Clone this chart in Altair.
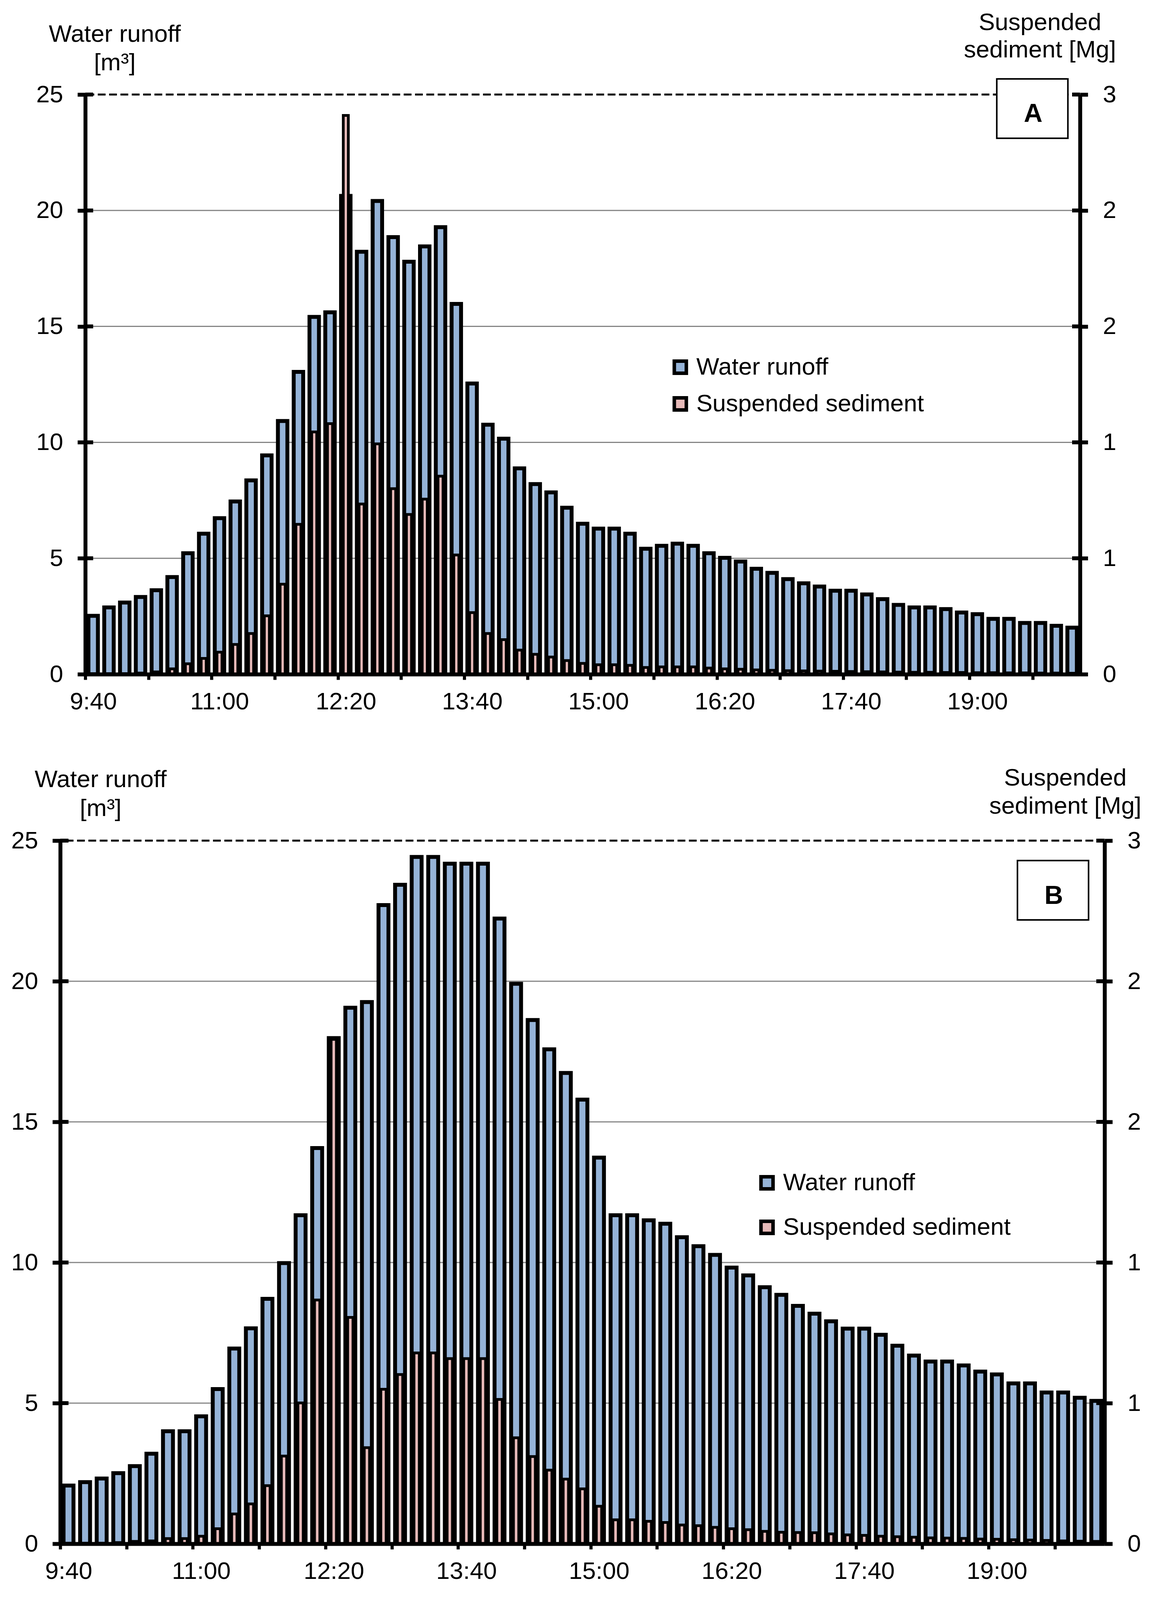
import json
import pandas as pd
import altair as alt

# 10-minute categories, 9:40 .. 20:00
times = ["9:40", "9:50",
         "10:00", "10:10", "10:20", "10:30", "10:40", "10:50",
         "11:00", "11:10", "11:20", "11:30", "11:40", "11:50",
         "12:00", "12:10", "12:20", "12:30", "12:40", "12:50",
         "13:00", "13:10", "13:20", "13:30", "13:40", "13:50",
         "14:00", "14:10", "14:20", "14:30", "14:40", "14:50",
         "15:00", "15:10", "15:20", "15:30", "15:40", "15:50",
         "16:00", "16:10", "16:20", "16:30", "16:40", "16:50",
         "17:00", "17:10", "17:20", "17:30", "17:40", "17:50",
         "18:00", "18:10", "18:20", "18:30", "18:40", "18:50",
         "19:00", "19:10", "19:20", "19:30", "19:40", "19:50",
         "20:00"]
x_labels = ["9:40", "11:00", "12:20", "13:40", "15:00", "16:20", "17:40", "19:00"]
left_ticks = [0, 5, 10, 15, 20, 25]
right_ticks = [0, 0.6, 1.2, 1.8, 2.4, 3.0]
grid_vals = [5, 10, 15, 20]
series = ["Water runoff", "Suspended sediment"]

# panel A
water_a = [2.52, 2.88, 3.09, 3.33, 3.62, 4.19, 5.22, 6.06, 6.73, 7.45,
           8.36, 9.44, 10.92, 13.04, 15.41, 15.61, 20.63, 18.22, 20.41, 18.85,
           17.79, 18.45, 19.28, 15.97, 12.54, 10.76, 10.16, 8.88, 8.20, 7.84,
           7.18, 6.49, 6.28, 6.28, 6.06, 5.41, 5.54, 5.63, 5.54, 5.22,
           5.02, 4.86, 4.55, 4.37, 4.10, 3.92, 3.78, 3.60, 3.60, 3.44,
           3.24, 2.99, 2.88, 2.88, 2.81, 2.66, 2.59, 2.39, 2.39, 2.21,
           2.21, 2.09, 2.01]
sediment_a = [0.0, 0.0, 0.0, 0.006, 0.012, 0.028, 0.054, 0.082, 0.114, 0.154,
              0.211, 0.302, 0.466, 0.776, 1.254, 1.297, 2.892, 0.881, 1.192, 0.960,
              0.827, 0.906, 1.025, 0.617, 0.319, 0.211, 0.179, 0.125, 0.103, 0.089,
              0.071, 0.056, 0.049, 0.049, 0.046, 0.035, 0.038, 0.038, 0.038, 0.032,
              0.028, 0.026, 0.022, 0.020, 0.018, 0.017, 0.016, 0.015, 0.014, 0.013,
              0.012, 0.011, 0.010, 0.010, 0.009, 0.009, 0.008, 0.008, 0.007, 0.007,
              0.006, 0.006, 0.005]

# panel B
water_b = [2.07, 2.19, 2.32, 2.51, 2.76, 3.20, 4.00, 4.00, 4.53, 5.50,
           6.94, 7.66, 8.71, 9.98, 11.68, 14.07, 17.98, 19.06, 19.26, 22.71,
           23.43, 24.42, 24.42, 24.18, 24.18, 24.18, 22.23, 19.91, 18.62, 17.58,
           16.74, 15.79, 13.73, 11.68, 11.68, 11.50, 11.38, 10.90, 10.58, 10.27,
           9.82, 9.54, 9.12, 8.85, 8.46, 8.18, 7.91, 7.65, 7.65, 7.43,
           7.04, 6.69, 6.48, 6.48, 6.34, 6.12, 6.02, 5.70, 5.70, 5.38,
           5.38, 5.19, 5.08]
sediment_b = [0.0, 0.0, 0.0, 0.005, 0.010, 0.012, 0.022, 0.022, 0.032, 0.064,
              0.127, 0.170, 0.248, 0.374, 0.601, 1.040, 2.152, 0.966, 0.410, 0.659,
              0.722, 0.814, 0.814, 0.790, 0.790, 0.790, 0.616, 0.452, 0.372, 0.314,
              0.276, 0.234, 0.160, 0.102, 0.102, 0.096, 0.091, 0.080, 0.077, 0.070,
              0.064, 0.060, 0.053, 0.049, 0.048, 0.047, 0.042, 0.038, 0.036, 0.032,
              0.030, 0.028, 0.025, 0.024, 0.023, 0.020, 0.019, 0.017, 0.016, 0.014,
              0.012, 0.011, 0.010]

FONT = "Liberation Sans"
BLUE = "#95B3D7"
PINK = "#E6B9B8"
GRID = "#858585"

n = len(times)
tick_pos = [4 * j - 0.5 for j in range(16)]
label_expr = ("(round((datum.value + 0.5) / 4) % 2 == 0) ? "
              + json.dumps(x_labels) + "[round((datum.value + 0.5) / 8)] : ''")


def panel(water, sediment, letter, w, h, lt, rt, leg, box, letter_xy):
    df = pd.DataFrame({"idx": list(range(n)), "time": times,
                       "water": water, "sediment": sediment})
    half = w / n / 2
    xs = alt.Scale(domain=[-0.5, n - 0.5], nice=False, zero=False)
    yl = alt.Scale(domain=[0, 25], nice=False)
    yr = alt.Scale(domain=[0, 3], nice=False)
    cs = alt.Scale(domain=series, range=[BLUE, PINK])

    x_axis = alt.Axis(values=tick_pos, labelExpr=label_expr, labelOffset=half,
                      tickSize=14, tickWidth=8, tickColor="black",
                      domainColor="black", domainWidth=10, grid=False,
                      labelFont=FONT, labelFontSize=62, labelColor="black",
                      labelPadding=26, labelFlush=False, labelOverlap=False,
                      title=None, zindex=1)
    y_left = alt.Axis(orient="left", values=left_ticks, tickSize=20, tickWidth=10,
                      tickColor="black", domainColor="black", domainWidth=10,
                      grid=False, labelFont=FONT, labelFontSize=62,
                      labelColor="black", labelPadding=37, labelFlush=False,
                      title=["Water runoff", "[m³]"], titleFont=FONT,
                      titleFontSize=62, titleFontWeight="normal", titleColor="black",
                      titleAngle=0, titleAlign="center", titleBaseline="alphabetic",
                      titleX=lt[0], titleY=lt[1], titleLineHeight=lt[2], zindex=1)
    y_right = alt.Axis(orient="right", values=right_ticks, format=".0f",
                       tickSize=20, tickWidth=10, tickColor="black",
                       domainColor="black", domainWidth=10, grid=False,
                       labelFont=FONT, labelFontSize=62, labelColor="black",
                       labelPadding=38, labelFlush=False,
                       title=["Suspended", "sediment [Mg]"], titleFont=FONT,
                       titleFontSize=62, titleFontWeight="normal", titleColor="black",
                       titleAngle=0, titleAlign="center", titleBaseline="alphabetic",
                       titleX=rt[0], titleY=rt[1], titleLineHeight=rt[2], zindex=1)
    legend = alt.Legend(orient="none", legendX=leg[0], legendY=leg[1], title=None,
                        symbolType="square", symbolSize=950, symbolStrokeWidth=9,
                        symbolStrokeColor="black", symbolOpacity=1,
                        labelFont=FONT, labelFontSize=62, labelColor="black",
                        labelLimit=2000, labelOffset=10, rowPadding=leg[2], padding=0)

    grid = alt.Chart(pd.DataFrame({"v": grid_vals})).mark_rule(
        color=GRID, strokeWidth=3).encode(y=alt.Y("v:Q", scale=yl, axis=None))

    blue = alt.Chart(df).transform_calculate(
        a="datum.idx - 0.30", b="datum.idx + 0.30", s="'Water runoff'"
    ).mark_bar(stroke="black", strokeWidth=10).encode(
        x=alt.X("a:Q", scale=xs, axis=x_axis),
        x2="b:Q",
        y=alt.Y("water:Q", scale=yl, axis=y_left),
        y2=alt.datum(0),
        color=alt.Color("s:N", scale=cs, legend=legend),
    )

    pink = alt.Chart(df).transform_calculate(
        a="datum.idx - 0.16", b="datum.idx + 0.16", s="'Suspended sediment'"
    ).mark_bar(stroke="black", strokeWidth=7).encode(
        x=alt.X("a:Q", scale=xs, axis=x_axis),
        x2="b:Q",
        y=alt.Y("sediment:Q", scale=yr, axis=y_right),
        y2=alt.datum(0),
        color=alt.Color("s:N", scale=cs, legend=legend),
    )

    dash = alt.Chart(pd.DataFrame({"v": [25]})).mark_rule(
        color="black", strokeWidth=5, strokeDash=[20, 9]
    ).encode(y=alt.Y("v:Q", scale=yl, axis=None))

    # inner half of the crossing tick marks
    ticks_l = alt.Chart(pd.DataFrame({"v": left_ticks})).mark_rule(
        color="black", strokeWidth=10
    ).encode(y=alt.Y("v:Q", scale=yl, axis=None),
             x=alt.datum(-0.5, scale=xs, axis=x_axis), x2=alt.datum(0.0))
    ticks_r = alt.Chart(pd.DataFrame({"v": left_ticks})).mark_rule(
        color="black", strokeWidth=10
    ).encode(y=alt.Y("v:Q", scale=yl, axis=None),
             x=alt.datum(n - 1.0, scale=xs, axis=x_axis), x2=alt.datum(n - 0.5))

    tag = pd.DataFrame({"label": [letter]})
    frame = alt.Chart(tag).mark_rect(fill="white", stroke="black", strokeWidth=4).encode(
        x=alt.value(box[0]), x2=alt.value(box[1]),
        y=alt.value(box[2]), y2=alt.value(box[3]))
    text = alt.Chart(tag).mark_text(
        font=FONT, fontSize=66, fontWeight="bold", color="black",
        align="center", baseline="alphabetic"
    ).encode(text="label:N", x=alt.value(letter_xy[0]), y=alt.value(letter_xy[1]))

    return alt.layer(grid, blue, pink, dash, ticks_l, ticks_r, frame, text).resolve_scale(
        y="independent").properties(width=w, height=h)


top = panel(water_a, sediment_a, "A", 2546, 1484,
            lt=(75, -136, 73), rt=(-103, -166, 70), leg=(1492, 667, 26),
            box=(2333, 2515, -40, 112), letter_xy=(2426, 70))
bottom = panel(water_b, sediment_b, "B", 2673, 1800,
               lt=(103, -138, 74), rt=(-101, -142, 72), leg=(1778, 845, 46),
               box=(2450, 2632, 51, 203), letter_xy=(2543, 162))

chart = alt.vconcat(top, bottom, spacing=133, center=True).resolve_scale(
    color="independent"
).properties(
    padding={"left": 20, "top": 18, "right": 10, "bottom": 4}
).configure(font=FONT).configure_view(strokeWidth=0)

chart.save("out.html", embed_options={"renderer": "svg", "actions": False})
